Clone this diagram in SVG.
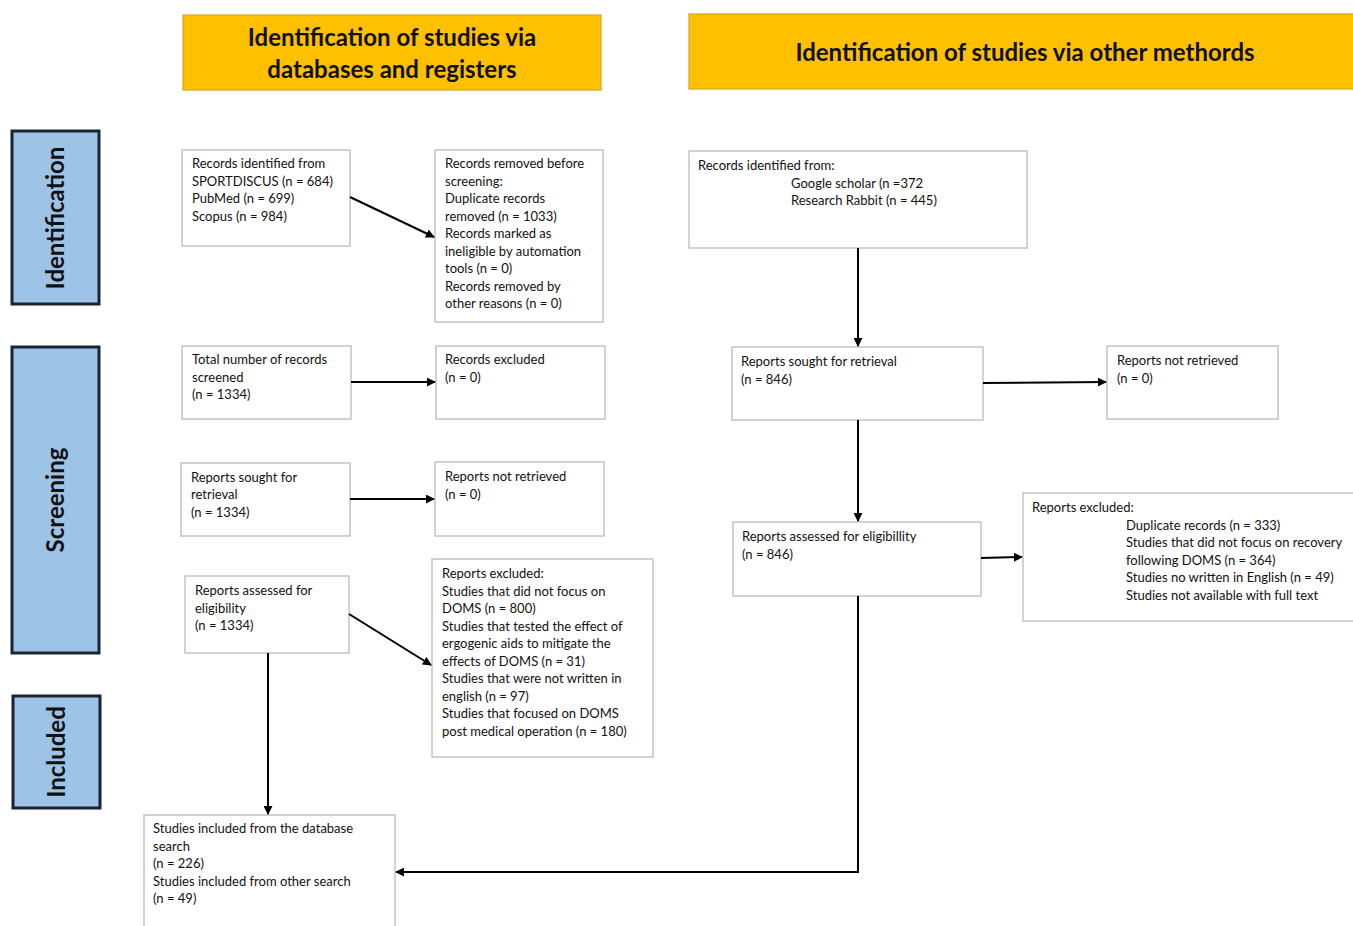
<svg xmlns="http://www.w3.org/2000/svg" width="1353" height="926" viewBox="0 0 1353 926">
<style>
.hdr{fill:#FFC000;stroke:#D9A520;stroke-width:1.2}
.hdrt{font-family:Lato,"Liberation Sans",sans-serif;font-weight:bold;font-size:24px;fill:#111;text-anchor:middle}
.side{fill:#9DC3E6;stroke:#1B2433;stroke-width:3}
.sidet{font-family:Lato,"Liberation Sans",sans-serif;font-weight:bold;font-size:24px;fill:#111;text-anchor:middle}
.box{fill:#fff;stroke:#C4C4C4;stroke-width:1.5}
.t{font-family:Lato,"Liberation Sans",sans-serif;font-size:13px;fill:#111}
.c{fill:none;stroke:#000;stroke-width:2}
</style>
<defs>
<marker id="ah" viewBox="0 0 10 10" refX="9" refY="5" markerWidth="4.5" markerHeight="4.5" orient="auto" markerUnits="strokeWidth">
<path d="M0,0 L10,5 L0,10 z" fill="#000"/>
</marker>
</defs>
<rect width="1353" height="926" fill="#fff"/>

<g id="header-db">
<rect class="hdr" x="183" y="15" width="418" height="75"/>
<text class="hdrt" x="392" y="46">Identification of studies via</text>
<text class="hdrt" x="392" y="78">databases and registers</text>
</g>
<g id="header-other">
<rect class="hdr" x="689" y="14" width="670" height="75"/>
<text class="hdrt" x="1025" y="61">Identification of studies via other methords</text>
</g>

<g id="phase-identification">
<rect class="side" x="12" y="131" width="87" height="173"/>
<text class="sidet" transform="translate(64,218) rotate(-90)">Identification</text>
</g>
<g id="phase-screening">
<rect class="side" x="12" y="347" width="87" height="306"/>
<text class="sidet" transform="translate(64,500) rotate(-90)">Screening</text>
</g>
<g id="phase-included">
<rect class="side" x="13" y="696" width="87" height="112"/>
<text class="sidet" transform="translate(65,752) rotate(-90)">Included</text>
</g>

<g id="db-identified">
<rect class="box" x="182" y="150" width="168" height="96"/>
<text class="t" x="192" y="168">Records identified from</text>
<text class="t" x="192" y="186">SPORTDISCUS (n = 684)</text>
<text class="t" x="192" y="203">PubMed (n = 699)</text>
<text class="t" x="192" y="221">Scopus (n = 984)</text>
</g>
<g id="db-removed">
<rect class="box" x="435" y="150" width="168" height="172"/>
<text class="t" x="445" y="168">Records removed before</text>
<text class="t" x="445" y="186">screening:</text>
<text class="t" x="445" y="203">Duplicate records</text>
<text class="t" x="445" y="221">removed (n = 1033)</text>
<text class="t" x="445" y="238">Records marked as</text>
<text class="t" x="445" y="256">ineligible by automation</text>
<text class="t" x="445" y="273">tools (n = 0)</text>
<text class="t" x="445" y="291">Records removed by</text>
<text class="t" x="445" y="308">other reasons (n = 0)</text>
</g>
<g id="db-screened">
<rect class="box" x="182" y="346" width="169" height="73"/>
<text class="t" x="192" y="364">Total number of records</text>
<text class="t" x="192" y="382">screened</text>
<text class="t" x="192" y="399">(n = 1334)</text>
</g>
<g id="db-excluded">
<rect class="box" x="436" y="346" width="169" height="73"/>
<text class="t" x="445" y="364">Records excluded</text>
<text class="t" x="445" y="382">(n = 0)</text>
</g>
<g id="db-sought">
<rect class="box" x="181" y="463" width="169" height="73"/>
<text class="t" x="191" y="482">Reports sought for</text>
<text class="t" x="191" y="499">retrieval</text>
<text class="t" x="191" y="517">(n = 1334)</text>
</g>
<g id="db-not-retrieved">
<rect class="box" x="435" y="462" width="169" height="74"/>
<text class="t" x="445" y="481">Reports not retrieved</text>
<text class="t" x="445" y="499">(n = 0)</text>
</g>
<g id="db-assessed">
<rect class="box" x="185" y="576" width="164" height="77"/>
<text class="t" x="195" y="595">Reports assessed  for</text>
<text class="t" x="195" y="613">eligibility</text>
<text class="t" x="195" y="630">(n = 1334)</text>
</g>
<g id="db-reports-excluded">
<rect class="box" x="432" y="559" width="221" height="198"/>
<text class="t" x="442" y="578">Reports excluded:</text>
<text class="t" x="442" y="596">Studies that did not focus on</text>
<text class="t" x="442" y="613">DOMS (n = 800)</text>
<text class="t" x="442" y="631">Studies that tested the effect  of</text>
<text class="t" x="442" y="648">ergogenic aids to mitigate the</text>
<text class="t" x="442" y="666">effects  of DOMS (n = 31)</text>
<text class="t" x="442" y="683">Studies that were not written in</text>
<text class="t" x="442" y="701">english (n = 97)</text>
<text class="t" x="442" y="718">Studies that focused on DOMS</text>
<text class="t" x="442" y="736">post medical operation (n = 180)</text>
</g>
<g id="included">
<rect class="box" x="144" y="815" width="251" height="120"/>
<text class="t" x="153" y="833">Studies included from the database</text>
<text class="t" x="153" y="851">search</text>
<text class="t" x="153" y="868">(n = 226)</text>
<text class="t" x="153" y="886">Studies included from other search</text>
<text class="t" x="153" y="903">(n = 49)</text>
</g>

<g id="other-identified">
<rect class="box" x="689" y="151" width="338" height="97"/>
<text class="t" x="698" y="170">Records identified from:</text>
<text class="t" x="791" y="188">Google scholar (n =372</text>
<text class="t" x="791" y="205">Research  Rabbit (n = 445)</text>
</g>
<g id="other-sought">
<rect class="box" x="732" y="347" width="251" height="73"/>
<text class="t" x="741" y="366">Reports sought for retrieval</text>
<text class="t" x="741" y="384">(n = 846)</text>
</g>
<g id="other-not-retrieved">
<rect class="box" x="1107" y="346" width="171" height="73"/>
<text class="t" x="1117" y="365">Reports not retrieved</text>
<text class="t" x="1117" y="383">(n = 0)</text>
</g>
<g id="other-assessed">
<rect class="box" x="733" y="522" width="248" height="74"/>
<text class="t" x="742" y="541">Reports assessed  for eligibillity</text>
<text class="t" x="742" y="559">(n = 846)</text>
</g>
<g id="other-excluded">
<rect class="box" x="1023" y="493" width="340" height="128"/>
<text class="t" x="1032" y="512">Reports excluded:</text>
<text class="t" x="1126" y="530">Duplicate records (n = 333)</text>
<text class="t" x="1126" y="547">Studies that did not focus on recovery</text>
<text class="t" x="1126" y="565">following DOMS (n = 364)</text>
<text class="t" x="1126" y="582">Studies no written in English (n = 49)</text>
<text class="t" x="1126" y="600">Studies not available with full text</text>
</g>

<g id="connectors">
<line class="c" x1="350" y1="197" x2="434" y2="237" marker-end="url(#ah)"/>
<line class="c" x1="351" y1="382" x2="435" y2="382" marker-end="url(#ah)"/>
<line class="c" x1="350" y1="499" x2="434" y2="499" marker-end="url(#ah)"/>
<line class="c" x1="349" y1="614" x2="431" y2="665" marker-end="url(#ah)"/>
<line class="c" x1="268" y1="653" x2="268" y2="814" marker-end="url(#ah)"/>
<line class="c" x1="858" y1="248" x2="858" y2="346" marker-end="url(#ah)"/>
<line class="c" x1="983" y1="383" x2="1106" y2="382" marker-end="url(#ah)"/>
<line class="c" x1="858" y1="420" x2="858" y2="521" marker-end="url(#ah)"/>
<line class="c" x1="981" y1="558" x2="1022" y2="557" marker-end="url(#ah)"/>
<polyline class="c" points="858,596 858,872 396,872" marker-end="url(#ah)"/>
</g>
</svg>
